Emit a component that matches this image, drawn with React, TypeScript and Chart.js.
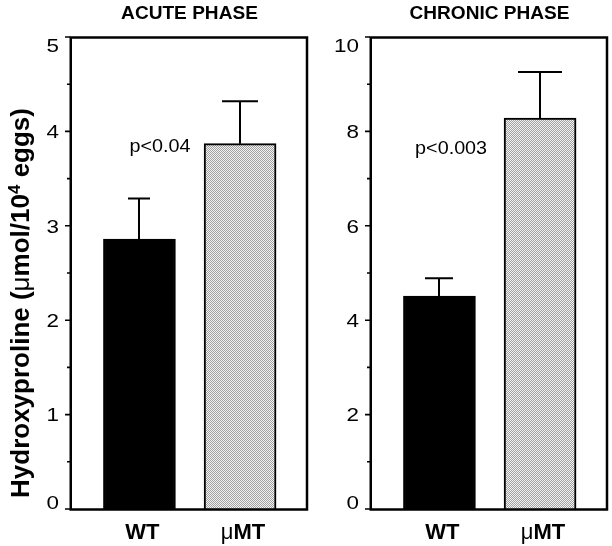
import React, { useEffect, useRef } from "react";
import { Chart, registerables } from "chart.js";

Chart.register(...registerables);

// ---------- data ----------
const categories = ["WT", "μMT"];
const acuteValues = [2.86, 3.87];
const acuteErrors = [0.43, 0.45];
const chronicValues = [4.51, 8.28];
const chronicErrors = [0.38, 0.98];
const acuteTicks = [0, 1, 2, 3, 4, 5];
const chronicTicks = [0, 2, 4, 6, 8, 10];
const panelTitles = ["ACUTE PHASE", "CHRONIC PHASE"];
const pLabels = ["p<0.04", "p<0.003"];
const pPositions = [
  [0.205, 3.86],
  [0.116, 7.68],
];
const yAxisTitle = ["Hydroxyproline (", "μ", "mol/10", "4", " eggs)"];

const FONT = '"Liberation Sans", Arial, Helvetica, sans-serif';

type Panel = {
  title: string;
  values: number[];
  errors: number[];
  ticks: number[];
  pLabel: string;
  pPos: number[];
  capWidths: number[];
  yTitle: boolean;
  width: number;
  left: number;
  padLeft: number;
  padRight: number;
};

const panels: Panel[] = [
  {
    title: panelTitles[0],
    values: acuteValues,
    errors: acuteErrors,
    ticks: acuteTicks,
    pLabel: pLabels[0],
    pPos: pPositions[0],
    capWidths: [22, 36],
    yTitle: true,
    width: 315,
    left: 0,
    padLeft: 70,
    padRight: 8,
  },
  {
    title: panelTitles[1],
    values: chronicValues,
    errors: chronicErrors,
    ticks: chronicTicks,
    pLabel: pLabels[1],
    pPos: pPositions[1],
    capWidths: [28, 44],
    yTitle: false,
    width: 297,
    left: 315,
    padLeft: 55,
    padRight: 5,
  },
];

function makePattern(): CanvasPattern | string {
  const c = document.createElement("canvas");
  c.width = 2;
  c.height = 2;
  const g = c.getContext("2d");
  if (!g) return "#c8c8c8";
  g.fillStyle = "#f2f2f2";
  g.fillRect(0, 0, 2, 2);
  g.fillStyle = "#a0a0a0";
  g.fillRect(0, 0, 1, 1);
  g.fillRect(1, 1, 1, 1);
  const p = g.createPattern(c, "repeat");
  return p || "#c8c8c8";
}

type Run = { text: string; font: string; dy?: number };

function drawRuns(ctx: CanvasRenderingContext2D, runs: Run[], cx: number, y: number) {
  let total = 0;
  const widths = runs.map((r) => {
    ctx.font = r.font;
    const w = ctx.measureText(r.text).width;
    total += w;
    return w;
  });
  let x = cx - total / 2;
  ctx.textAlign = "left";
  ctx.textBaseline = "alphabetic";
  runs.forEach((r, i) => {
    ctx.font = r.font;
    ctx.fillText(r.text, x, y + (r.dy || 0));
    x += widths[i];
  });
}

function fillScaled(ctx: CanvasRenderingContext2D, text: string, x: number, y: number, sx: number) {
  ctx.save();
  ctx.translate(x, y);
  ctx.scale(sx, 1);
  ctx.fillText(text, 0, 0);
  ctx.restore();
}

function makeDecor(p: Panel) {
  return {
    id: "decor",
    afterDatasetsDraw(chart: any) {
      const ctx: CanvasRenderingContext2D = chart.ctx;
      const a = chart.chartArea;
      const xs = chart.scales.x;
      const ys = chart.scales.y;
      ctx.save();
      ctx.strokeStyle = "#000";
      ctx.fillStyle = "#000";

      // error bars (upper only)
      ctx.lineWidth = 2;
      p.values.forEach((v, i) => {
        const x = Math.round(xs.getPixelForValue(i));
        const y0 = ys.getPixelForValue(v);
        const y1 = ys.getPixelForValue(v + p.errors[i]);
        const hw = p.capWidths[i] / 2;
        ctx.beginPath();
        ctx.moveTo(x, y0);
        ctx.lineTo(x, y1);
        ctx.moveTo(x - hw, y1);
        ctx.lineTo(x + hw, y1);
        ctx.stroke();
      });

      // frame
      ctx.lineWidth = 2.5;
      ctx.strokeRect(a.left + 0.75, a.top + 0.5, a.right - a.left - 0.75, a.bottom - a.top);

      // y ticks
      ctx.lineWidth = 1.6;
      const t = p.ticks;
      ctx.beginPath();
      t.forEach((v, i) => {
        const y = ys.getPixelForValue(v);
        ctx.moveTo(a.left - 5, y);
        ctx.lineTo(a.left, y);
        if (i < t.length - 1) {
          const ym = ys.getPixelForValue((v + t[i + 1]) / 2);
          ctx.moveTo(a.left - 3, ym);
          ctx.lineTo(a.left, ym);
        }
      });
      ctx.stroke();

      // y tick labels
      ctx.font = `19px ${FONT}`;
      ctx.textAlign = "right";
      ctx.textBaseline = "alphabetic";
      const cap = 13.6;
      t.forEach((v) => {
        const y = ys.getPixelForValue(v);
        let base = y + cap / 2;
        base = Math.max(base, a.top + cap + 1);
        base = Math.min(base, a.bottom);
        fillScaled(ctx, String(v), a.left - 11, base, 1.18);
      });

      // p label
      ctx.font = `19px ${FONT}`;
      ctx.textAlign = "center";
      fillScaled(ctx, p.pLabel, xs.getPixelForValue(p.pPos[0]), ys.getPixelForValue(p.pPos[1]) + 7, 1.04);

      // title
      ctx.font = `bold 18px ${FONT}`;
      ctx.textAlign = "center";
      fillScaled(ctx, p.title, (a.left + a.right) / 2 + 1, 19, 1.06);

      // category labels
      categories.forEach((c, i) => {
        const x = xs.getPixelForValue(i) + 3;
        const runs: Run[] =
          c.startsWith("μ")
            ? [
                { text: "μ", font: `22px ${FONT}` },
                { text: c.slice(1), font: `bold 22px ${FONT}` },
              ]
            : [{ text: c, font: `bold 22px ${FONT}` }];
        drawRuns(ctx, runs, x, 539);
      });

      // y axis title
      if (p.yTitle) {
        ctx.save();
        ctx.translate(29, (a.top + a.bottom) / 2 + 30);
        ctx.rotate(-Math.PI / 2);
        const bold = `bold 26px ${FONT}`;
        const runs: Run[] = [
          { text: yAxisTitle[0], font: bold },
          { text: yAxisTitle[1], font: `26px ${FONT}` },
          { text: yAxisTitle[2], font: bold },
          { text: yAxisTitle[3], font: `bold 17px ${FONT}`, dy: -9 },
          { text: yAxisTitle[4], font: bold },
        ];
        drawRuns(ctx, runs, 0, 0);
        ctx.restore();
      }
      ctx.restore();
    },
  };
}

function PanelChart({ p }: { p: Panel }) {
  const ref = useRef<HTMLCanvasElement | null>(null);
  useEffect(() => {
    if (!ref.current) return;
    const pattern = makePattern();
    const yMax = p.ticks[p.ticks.length - 1];
    const chart = new Chart(ref.current, {
      type: "bar",
      data: {
        datasets: [
          {
            data: p.values.map((v, i) => ({ x: i, y: v })),
            backgroundColor: ["#000000", pattern as any],
            borderColor: "#000000",
            borderWidth: 2,
            borderSkipped: "bottom",
            barThickness: 72,
          } as any,
        ],
      },
      options: {
        responsive: false,
        animation: false,
        devicePixelRatio: 1,
        layout: { padding: { left: p.padLeft, right: p.padRight, top: 37, bottom: 37 } },
        plugins: { legend: { display: false }, tooltip: { enabled: false } },
        scales: {
          x: { type: "linear", min: -0.69, max: 1.665, offset: false, display: false },
          y: { type: "linear", min: 0, max: yMax, display: false },
        },
      },
      plugins: [makeDecor(p)],
    });
    return () => chart.destroy();
  }, [p]);
  return (
    <canvas
      ref={ref}
      width={p.width}
      height={546}
      style={{ position: "absolute", left: p.left, top: 0, width: p.width, height: 546, display: "block" }}
    />
  );
}

export default function App() {
  return (
    <div style={{ position: "fixed", left: 0, top: 0, width: 612, height: 546, background: "#fff", overflow: "hidden" }}>
      {panels.map((p, i) => (
        <PanelChart key={i} p={p} />
      ))}
    </div>
  );
}
